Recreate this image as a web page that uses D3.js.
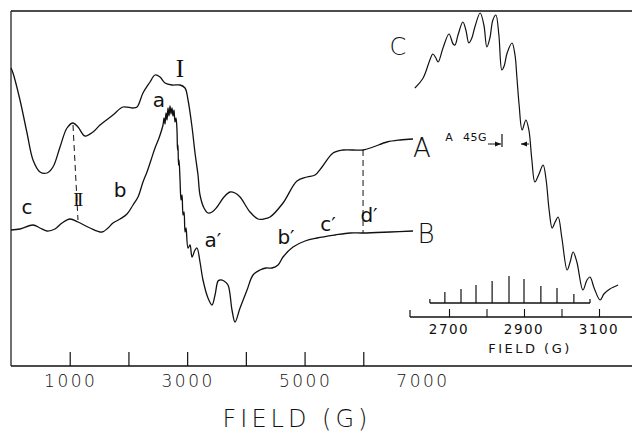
<!DOCTYPE html>
<html>
<head>
<meta charset="utf-8">
<script src="https://cdn.jsdelivr.net/npm/d3@7"></script>
<style>
  body { margin: 0; background: #fff; }
  svg { display: block; }
</style>
</head>
<body>
<div id="chart"></div>
<script>
"use strict";

// main spectra, field in gauss, intensity in arbitrary units
var fieldA = [0, 34, 153, 273, 375, 494, 613, 715, 835, 954, 1056, 1141, 1260, 1397, 1516, 1737, 1908, 2078, 2146, 2248, 2368, 2453, 2538, 2623, 2742, 2879, 2964, 3015, 3083, 3134, 3185, 3219, 3287, 3355, 3424, 3509, 3628, 3730, 3815, 3901, 4071, 4207, 4309, 4412, 4633, 4871, 5042, 5178, 5297, 5485, 5655, 5996, 6166, 6404, 6626, 6847];
var signalA = [298, 293, 266, 233, 206, 194, 193, 199, 219, 238, 243, 239, 230, 234, 241, 251, 259, 258, 259, 273, 284, 291, 289, 283, 281, 281, 278, 266, 239, 213, 191, 171, 158, 153, 154, 159, 169, 174, 173, 169, 154, 147, 147, 149, 163, 185, 189, 191, 199, 213, 216, 216, 219, 224, 226, 227];

var fieldB = [0, 153, 375, 494, 613, 749, 869, 1005, 1141, 1346, 1550, 1652, 1737, 1857, 1976, 2078, 2163, 2248, 2316, 2385, 2453, 2521, 2589, 2606, 2623, 2640, 2657, 2674, 2691, 2708, 2725, 2742, 2759, 2776, 2793, 2810, 2827, 2836, 2844, 2853, 2862, 2879, 2896, 2913, 2930, 2947, 2964, 2981, 3015, 3049, 3083, 3134, 3168, 3219, 3270, 3355, 3424, 3475, 3526, 3560, 3628, 3696, 3764, 3815, 3901, 4020, 4122, 4241, 4343, 4446, 4548, 4633, 4803, 5008, 5212, 5519, 5774, 5996, 6455, 6847];
var signalB = [136, 137, 141, 138, 135, 137, 143, 147, 144, 138, 134, 138, 143, 147, 152, 161, 169, 184, 194, 206, 218, 228, 241, 248, 242, 253, 246, 258, 250, 260, 252, 258, 250, 256, 244, 248, 236, 216, 221, 201, 206, 186, 166, 171, 151, 154, 134, 138, 118, 121, 109, 116, 118, 104, 86, 68, 61, 71, 85, 86, 85, 81, 56, 44, 58, 76, 91, 96, 98, 98, 101, 109, 119, 125, 128, 131, 133, 133, 134, 135];

// inset spectrum C (expanded g-perpendicular region)
var fieldC = [2609, 2631, 2649, 2657, 2665, 2671, 2684, 2700, 2711, 2716, 2724, 2737, 2745, 2753, 2761, 2769, 2783, 2793, 2801, 2809, 2817, 2825, 2833, 2841, 2847, 2855, 2868, 2876, 2881, 2887, 2895, 2905, 2913, 2921, 2929, 2940, 2951, 2959, 2967, 2975, 2983, 2991, 3001, 3015, 3023, 3031, 3041, 3057, 3068, 3076, 3087, 3103, 3113, 3129, 3151];
var signalC = [278, 288, 306, 312, 308, 304, 318, 332, 322, 321, 331, 344, 336, 323, 328, 339, 353, 341, 319, 328, 346, 351, 331, 296, 300, 313, 323, 311, 289, 261, 236, 246, 236, 206, 184, 192, 201, 186, 156, 138, 144, 149, 128, 96, 104, 114, 104, 76, 86, 89, 78, 66, 72, 77, 81];

// stick reconstruction, 45 G splitting
var stickField = [2689, 2732, 2772, 2815, 2860, 2900, 2945, 2988, 3033];
var stickHeight = [11, 14, 18, 22, 27, 24, 17, 15, 9];

var mainTicks = [1000, 2000, 3000, 4000, 5000, 6000];
var mainTickLabels = [1000, 3000, 5000, 7000];
var insetTicks = [2700, 2800, 2900, 3000, 3100];
var insetTickLabels = [2700, 2900, 3100];

var width = 632, height = 435;
var ink = "#111";
var sans = "DejaVu Sans, sans-serif";
var serif = "Liberation Serif, serif";

var svg = d3.select("#chart").append("svg")
    .attr("width", width).attr("height", height);

var x = d3.scaleLinear().domain([0, 7000]).range([11, 422]);
var y = d3.scaleLinear().domain([0, 355]).range([366, 11]);
var xi = d3.scaleLinear().domain([2700, 3100]).range([449, 599]);
var hs = d3.scaleLinear().domain([0, 27]).range([0, 27]);

function zip(xs, ys) {
  return xs.map(function (d, i) { return [d, ys[i]]; });
}

function label(t, px, py, size, opts) {
  opts = opts || {};
  return svg.append("text")
      .attr("x", px).attr("y", py)
      .attr("text-anchor", opts.anchor || "middle")
      .attr("fill", ink)
      .style("font-family", opts.family || sans)
      .style("font-size", size + "px")
      .style("font-weight", opts.weight || "normal")
      .style("letter-spacing", (opts.spacing || 0) + "px")
      .text(t);
}

// frame
svg.append("line").attr("x1", 11).attr("x2", 632).attr("y1", 11).attr("y2", 11)
    .attr("stroke", ink).attr("stroke-width", 1.4);
svg.append("line").attr("x1", 11).attr("x2", 11).attr("y1", 11).attr("y2", 366)
    .attr("stroke", ink).attr("stroke-width", 1.2);

// main axis
var axisMain = d3.axisBottom(x).tickValues(mainTicks).tickSize(-14).tickFormat("");
var gx = svg.append("g").attr("transform", "translate(0,366)").call(axisMain);
gx.select(".domain").remove();
gx.selectAll(".tick line").attr("stroke", ink).attr("stroke-width", 1.2);
svg.append("line").attr("x1", 11).attr("x2", 632).attr("y1", 366).attr("y2", 366)
    .attr("stroke", ink).attr("stroke-width", 1.4);

mainTickLabels.forEach(function (d) {
  label(d, x(d) + 1, 387, 17, {weight: 300, spacing: 2.5});
});
label("FIELD (G)", 297, 427, 24, {weight: 300, spacing: 4});

// spectra
var line = d3.line()
    .x(function (d) { return x(d[0]); })
    .y(function (d) { return y(d[1]); })
    .curve(d3.curveCatmullRom.alpha(0.5));

svg.append("path").datum(zip(fieldA, signalA)).attr("d", line)
    .attr("fill", "none").attr("stroke", ink).attr("stroke-width", 1.3);
svg.append("path").datum(zip(fieldB, signalB)).attr("d", line)
    .attr("fill", "none").attr("stroke", ink).attr("stroke-width", 1.3);

// dashed connectors
svg.append("line").attr("x1", x(1056)).attr("y1", y(241)).attr("x2", x(1141)).attr("y2", y(146))
    .attr("stroke", ink).attr("stroke-width", 1).attr("stroke-dasharray", "6,4");
svg.append("line").attr("x1", x(5996)).attr("y1", y(216)).attr("x2", x(5996)).attr("y2", y(133))
    .attr("stroke", ink).attr("stroke-width", 1).attr("stroke-dasharray", "6,4");

// curve labels
label("c", 27, 214, 20);
label("b", 120, 197, 20);
label("a", 159, 107, 20);
label("a\u2032", 213, 247, 20);
label("b\u2032", 286, 244, 20);
label("c\u2032", 328, 231, 20);
label("d\u2032", 369, 222, 20);
label("A", 422, 157, 26, {weight: 300});
label("B", 426, 243, 26, {weight: 300});
label("C", 398, 55, 24, {weight: 300});
label("II", 77, 206, 19, {family: serif, spacing: -2.5});
label("I", 180, 77, 25, {family: serif});

// inset
var lineC = d3.line()
    .x(function (d) { return xi(d[0]); })
    .y(function (d) { return y(d[1]); })
    .curve(d3.curveCatmullRom.alpha(0.5));
svg.append("path").datum(zip(fieldC, signalC)).attr("d", lineC)
    .attr("fill", "none").attr("stroke", ink).attr("stroke-width", 1.2);

// stick diagram
var stickBase = 303;
svg.append("line").attr("x1", xi(2649)).attr("x2", xi(3076)).attr("y1", stickBase).attr("y2", stickBase)
    .attr("stroke", ink).attr("stroke-width", 1.3);
svg.selectAll(".endtick").data([2649, 3076]).join("line")
    .attr("class", "endtick")
    .attr("x1", function (d) { return xi(d); }).attr("x2", function (d) { return xi(d); })
    .attr("y1", stickBase).attr("y2", stickBase - 4)
    .attr("stroke", ink).attr("stroke-width", 1.2);
svg.selectAll(".stick").data(zip(stickField, stickHeight)).join("line")
    .attr("class", "stick")
    .attr("x1", function (d) { return xi(d[0]); }).attr("x2", function (d) { return xi(d[0]); })
    .attr("y1", stickBase).attr("y2", function (d) { return stickBase - hs(d[1]); })
    .attr("stroke", ink).attr("stroke-width", 1.2);

// inset axis
var axisInset = d3.axisBottom(xi).tickValues(insetTicks).tickSize(-8).tickFormat("");
var gi = svg.append("g").attr("transform", "translate(0,317)").call(axisInset);
gi.select(".domain").remove();
gi.selectAll(".tick line").attr("stroke", ink).attr("stroke-width", 1.1);
svg.append("line").attr("x1", 410).attr("x2", 632).attr("y1", 317).attr("y2", 317)
    .attr("stroke", ink).attr("stroke-width", 1.3);
svg.append("line").attr("x1", 410).attr("x2", 410).attr("y1", 317).attr("y2", 310)
    .attr("stroke", ink).attr("stroke-width", 1.2);

insetTickLabels.forEach(function (d) {
  label(d, xi(d), 334, 13.5, {spacing: 1.5});
});
label("FIELD (G)", 530, 353, 13, {spacing: 2.5});

// splitting marker
label("A", 449, 141, 11, {});
label("45G", 475, 141, 11, {spacing: 0.5});

var defs = svg.append("defs");
defs.append("marker").attr("id", "head").attr("viewBox", "0 0 10 10")
    .attr("refX", 10).attr("refY", 5).attr("markerWidth", 6).attr("markerHeight", 6)
    .attr("orient", "auto-start-reverse")
    .append("path").attr("d", "M0,1L10,5L0,9z").attr("fill", ink);

svg.append("line").attr("x1", 488).attr("x2", 501).attr("y1", 144).attr("y2", 144)
    .attr("stroke", ink).attr("stroke-width", 1).attr("marker-end", "url(#head)");
svg.append("line").attr("x1", 502).attr("x2", 502).attr("y1", 134).attr("y2", 147)
    .attr("stroke", ink).attr("stroke-width", 1.2);
svg.append("line").attr("x1", 529).attr("x2", 521).attr("y1", 144).attr("y2", 144)
    .attr("stroke", ink).attr("stroke-width", 1).attr("marker-end", "url(#head)");
</script>
</body>
</html>
